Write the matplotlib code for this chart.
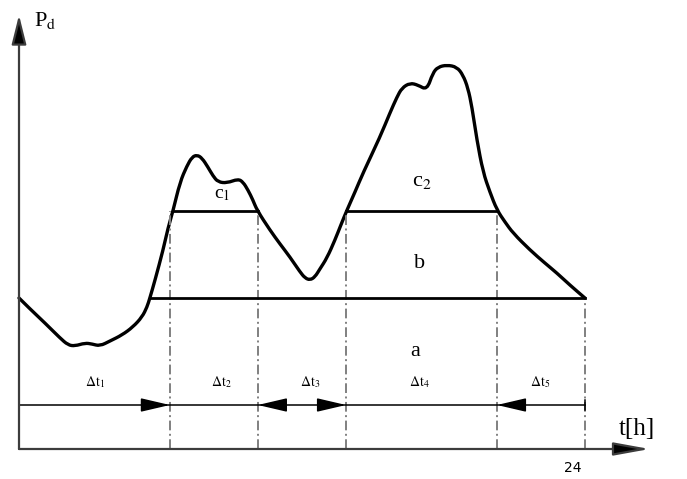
import matplotlib
matplotlib.use("Agg")
import matplotlib.pyplot as plt
from matplotlib.path import Path
from matplotlib.patches import PathPatch

plt.rcParams["mathtext.fontset"] = "stix"

# load curve: hours, power (arbitrary units)
hours = [0.00, 0.47, 1.10, 1.74, 2.08, 2.37, 2.80, 3.10, 3.43, 3.86, 4.37,
         4.83, 5.22, 5.43, 5.55, 5.77, 6.11, 6.32, 6.53, 6.83, 7.12, 7.34,
         7.55, 7.76, 8.01, 8.23, 8.44, 8.82, 9.29, 9.50, 9.71, 9.92, 10.09,
         10.64, 11.07, 11.49, 11.92, 12.13, 12.34, 12.55, 12.76, 13.06,
         13.40, 13.65, 13.91, 14.25, 14.59, 15.31, 15.73, 16.03, 16.24,
         16.58, 16.92, 17.30, 17.55, 17.77, 18.15, 18.57, 18.83, 19.04,
         19.21, 19.42, 19.68, 19.97, 20.27, 20.61, 20.95, 21.67, 22.30,
         22.81, 23.36, 24.00]
load = [15.1, 14.0, 12.6, 11.1, 10.4, 10.3, 10.6, 10.5, 10.3, 10.8, 11.4,
        12.2, 13.2, 14.2, 15.1, 16.9, 19.9, 22.1, 23.8, 26.7, 28.3, 29.2,
        29.4, 29.1, 28.2, 27.3, 26.7, 26.6, 27.0, 26.7, 25.9, 24.9, 23.9,
        21.9, 20.5, 19.2, 17.7, 17.1, 16.9, 17.2, 18.0, 19.1, 20.9, 22.4,
        23.9, 25.7, 27.6, 31.2, 33.6, 35.2, 36.1, 36.6, 36.4, 35.9, 37.6,
        38.2, 38.4, 38.2, 37.4, 36.1, 34.2, 30.9, 27.7, 25.7, 23.9, 22.7,
        21.6, 19.9, 18.6, 17.6, 16.4, 15.1]

level_a = 15.1
level_b = 23.8
# interval boundaries [h]
bounds = [0.0, 6.4, 10.13, 13.87, 20.27, 24.0]
interval_labels = [r"$\Delta\mathrm{t}_1$", r"$\Delta\mathrm{t}_2$", r"$\Delta\mathrm{t}_3$",
                   r"$\Delta\mathrm{t}_4$", r"$\Delta\mathrm{t}_5$"]
a_start = 5.55
b_spans = [(6.53, 10.13), (13.87, 20.27)]

fig = plt.figure(figsize=(6.87, 4.79), dpi=100)
ax = fig.add_axes([0, 0, 1, 1])
ax.set_xlim(-0.806, 28.33)
ax.set_ylim(-3.0, 44.9)
ax.axis("off")

serif = "Liberation Serif"
axcol = "#3c3c3c"

# axes with arrows
ax.annotate("", xy=(0, 43.4), xytext=(0, 0),
            arrowprops=dict(arrowstyle="-|>,head_length=1.8,head_width=0.45",
                            mutation_scale=10, lw=1.6, color=axcol,
                            fc="black", shrinkA=0, shrinkB=0))
ax.annotate("", xy=(26.75, 0), xytext=(0, 0),
            arrowprops=dict(arrowstyle="-|>,head_length=2.2,head_width=0.4",
                            mutation_scale=10, lw=1.6, color=axcol,
                            fc="black", shrinkA=0, shrinkB=0))

# dash-dot verticals
for i, h in enumerate(bounds[1:]):
    top = level_a if i == len(bounds) - 2 else level_b
    ax.plot([h, h], [0, top], color="#808080", lw=1.4,
            dashes=(5, 1.8, 1, 1.8))

# levels
ax.plot([a_start, 24.0], [level_a, level_a], color="black", lw=2.0)
for s, e in b_spans:
    ax.plot([s, e], [level_b, level_b], color="black", lw=2.0)

# load curve, smoothed with quadratic segments through the read points
pts = list(zip(hours, load))
verts = [pts[0]]
codes = [Path.MOVETO]
for i in range(1, len(pts) - 1):
    mid = ((pts[i][0] + pts[i + 1][0]) / 2, (pts[i][1] + pts[i + 1][1]) / 2)
    verts += [pts[i], mid]
    codes += [Path.CURVE3, Path.CURVE3]
verts.append(pts[-1])
codes.append(Path.LINETO)
ax.add_patch(PathPatch(Path(verts, codes), fill=False, ec="black", lw=2.4,
                       joinstyle="round", capstyle="round"))

# interval arrows
ya = 4.4
ax.plot([0, 24.0], [ya, ya], color="black", lw=1.1)
ax.plot([24.0, 24.0], [ya - 0.5, ya + 0.5], color="black", lw=1.1)
head = dict(arrowstyle="-|>,head_length=1.8,head_width=0.42",
            mutation_scale=10, lw=1.1, color="black", shrinkA=0, shrinkB=0)
ax.annotate("", xy=(bounds[1], ya), xytext=(bounds[1] - 1.2, ya), arrowprops=head)
ax.annotate("", xy=(bounds[2], ya), xytext=(bounds[2] + 1.2, ya), arrowprops=head)
ax.annotate("", xy=(bounds[3], ya), xytext=(bounds[3] - 1.2, ya), arrowprops=head)
ax.annotate("", xy=(bounds[4], ya), xytext=(bounds[4] + 1.2, ya), arrowprops=head)

label_x = [3.23, 8.6, 12.35, 17.0, 22.1]
for x, t in zip(label_x, interval_labels):
    ax.text(x, 5.9, t, fontsize=10, ha="center", va="bottom")

# region letters
ax.text(8.6, 24.6, r"c$_1$", fontsize=14, family=serif, ha="center", va="bottom")
ax.text(17.1, 25.8, r"c$_2$", fontsize=16, family=serif, ha="center", va="bottom")
ax.text(17.0, 17.6, "b", fontsize=16, family=serif, ha="center", va="bottom")
ax.text(16.8, 8.8, "a", fontsize=16, family=serif, ha="center", va="bottom")

# axis labels
ax.text(0.65, 41.8, r"P$_\mathrm{d}$", fontsize=16, family=serif, ha="left", va="bottom")
ax.text(25.45, 0.9, "t[h]", fontsize=18, family=serif, ha="left", va="bottom")
ax.text(23.5, -2.6, "24", fontsize=10, family="DejaVu Sans", ha="center", va="bottom")

fig.savefig("out.png", dpi=100)
